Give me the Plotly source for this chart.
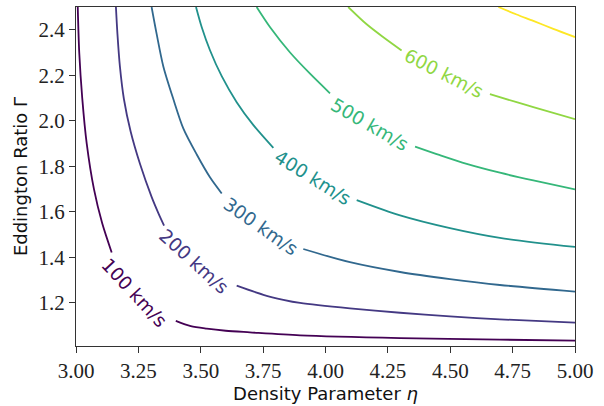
import plotly.graph_objects as go

# Contour levels (km/s) and their viridis colours
levels = [100, 200, 300, 400, 500, 600, 700]
colors = ["#440154", "#443983", "#31688e", "#21918c", "#35b779", "#90d743", "#fde725"]

# Contour lines (None = gap for inline label)
eta_100 = [3.007, 3.013, 3.025, 3.043, 3.072, 3.105, 3.143,
           None, 3.400, 3.460, 3.524, 3.600, 3.697, 3.898, 4.299, 4.699, 5.0]
gam_100 = [2.500, 2.300, 2.100, 1.900, 1.700, 1.550, 1.422,
           None, 1.121, 1.098, 1.087, 1.078, 1.071, 1.058, 1.046, 1.039, 1.035]

eta_200 = [3.160, 3.166, 3.176, 3.192, 3.219, 3.257, 3.303, 3.330, 3.353,
           None, 3.644, 3.751, 3.831, 3.898, 4.098, 4.299, 4.499, 4.699, 5.0]
gam_200 = [2.500, 2.383, 2.239, 2.096, 1.953, 1.809, 1.666, 1.595, 1.540,
           None, 1.276, 1.236, 1.214, 1.200, 1.176, 1.157, 1.141, 1.128, 1.114]

eta_300 = [3.303, 3.323, 3.350, 3.390, 3.430, 3.484, 3.537, 3.584,
           None, 3.911, 4.098, 4.299, 4.499, 4.699, 5.0]
gam_300 = [2.500, 2.383, 2.239, 2.096, 1.967, 1.852, 1.752, 1.681,
           None, 1.437, 1.379, 1.336, 1.305, 1.279, 1.250]

eta_400 = [3.481, 3.504, 3.537, 3.584, 3.644, 3.711, 3.791,
           None, 4.125, 4.299, 4.499, 4.699, 5.0]
gam_400 = [2.500, 2.411, 2.310, 2.196, 2.082, 1.981, 1.881,
           None, 1.652, 1.585, 1.529, 1.486, 1.446]

eta_500 = [3.724, 3.778, 3.858, 3.938, 4.018,
           None, 4.359, 4.459, 4.566, 4.699, 4.833, 5.0]
gam_500 = [2.500, 2.411, 2.300, 2.207, 2.121,
           None, 1.887, 1.849, 1.811, 1.772, 1.738, 1.699]

eta_600 = [4.091, 4.165, 4.232, 4.305,
           None, 4.659, 4.766, 4.833, 5.0]
gam_600 = [2.500, 2.424, 2.367, 2.309,
           None, 2.117, 2.082, 2.060, 2.007]

eta_700 = [4.693, 4.766, 4.833, 4.913, 5.0]
gam_700 = [2.500, 2.467, 2.439, 2.404, 2.368]

# Inline label positions and angles
label_eta = [3.232, 3.473, 3.741, 3.948, 4.178, 4.475]
label_gam = [1.244, 1.382, 1.537, 1.752, 1.985, 2.208]
label_angle = [47, 42, 35, 32, 30, 27]
label_text = ["100 km/s", "200 km/s", "300 km/s", "400 km/s", "500 km/s", "600 km/s"]

x_ticks = [3.00, 3.25, 3.50, 3.75, 4.00, 4.25, 4.50, 4.75, 5.00]
y_ticks = [1.2, 1.4, 1.6, 1.8, 2.0, 2.2, 2.4]

lines_eta = [eta_100, eta_200, eta_300, eta_400, eta_500, eta_600, eta_700]
lines_gam = [gam_100, gam_200, gam_300, gam_400, gam_500, gam_600, gam_700]

fig = go.Figure()
for ex, gy, c, lv in zip(lines_eta, lines_gam, colors, levels):
    fig.add_trace(go.Scatter(x=ex, y=gy, mode="lines",
                             line=dict(color=c, width=1.8, shape="spline", smoothing=0.8),
                             name=f"{lv} km/s", showlegend=False, hoverinfo="skip"))

for xe, yg, ang, txt, c in zip(label_eta, label_gam, label_angle, label_text, colors):
    fig.add_annotation(x=xe, y=yg, text=txt, textangle=ang, showarrow=False,
                       xanchor="center", yanchor="middle",
                       font=dict(family="DejaVu Sans", size=18.5, color=c))

serif = "Liberation Serif, Times New Roman, serif"
axis_common = dict(showline=True, linecolor="#333333", linewidth=1.2, mirror=True,
                   ticks="outside", ticklen=6, tickwidth=1.2, tickcolor="#333333",
                   showgrid=False, zeroline=False,
                   tickfont=dict(family=serif, size=21, color="#222222"))

fig.update_xaxes(range=[3.0, 5.0], tickvals=x_ticks, ticktext=[f"{v:.2f}" for v in x_ticks],
                 title=dict(text="Density Parameter <i>η</i>", standoff=4,
                            font=dict(family="DejaVu Sans", size=18, color="#111111")),
                 **axis_common)
fig.update_yaxes(range=[1.011, 2.5], tickvals=y_ticks, ticktext=[f"{v:.1f}" for v in y_ticks],
                 title=dict(text="Eddington Ratio Γ", standoff=6,
                            font=dict(family="DejaVu Sans", size=18, color="#111111")),
                 **axis_common)

fig.update_layout(width=604, height=406, margin=dict(l=76, r=29, t=6, b=54),
                  plot_bgcolor="white", paper_bgcolor="white",
                  font=dict(family=serif))

fig.write_html("out.html")
